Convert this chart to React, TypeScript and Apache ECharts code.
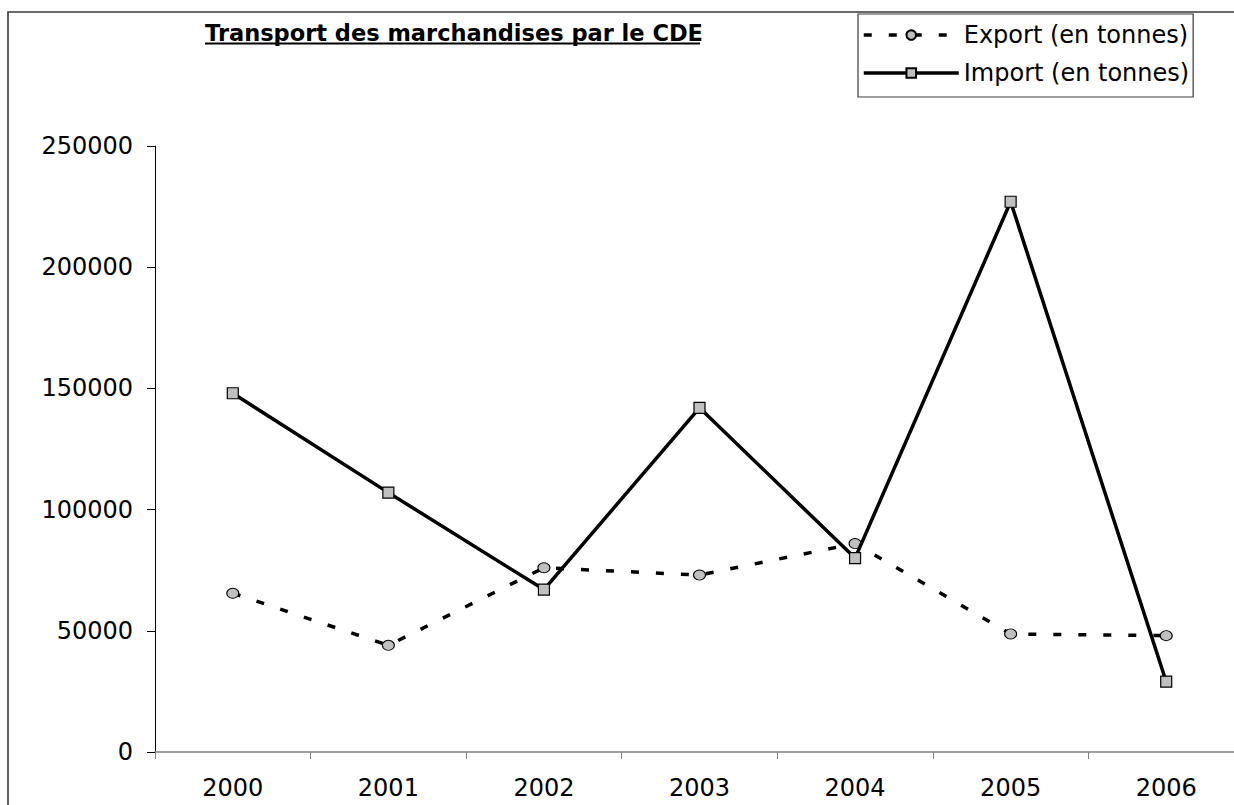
import React, { useEffect, useRef } from "react";
import * as echarts from "echarts";

const years = ["2000", "2001", "2002", "2003", "2004", "2005", "2006"];
const exportTonnes = [65500, 44000, 76000, 73000, 86000, 48700, 48000];
const importTonnes = [148000, 107000, 67000, 142000, 80000, 227000, 29000];
const yTicks = { min: 0, max: 250000, interval: 50000 };
const titleText = "Transport des marchandises par le CDE";
const exportName = "Export (en tonnes)";
const importName = "Import (en tonnes)";

const FONT = "DejaVu Sans";

export default function App() {
  const ref = useRef<HTMLDivElement>(null);
  useEffect(() => {
    if (!ref.current) return;
    const chart = echarts.init(ref.current, null, { renderer: "svg" });
    chart.setOption({
      animation: false,
      backgroundColor: "#ffffff",
      title: {
        text: titleText,
        left: 205,
        top: 21,
        padding: 0,
        textStyle: {
          fontFamily: FONT,
          fontWeight: "bold",
          fontSize: 22.5,
          color: "#000000",
        },
      },
      graphic: [
        {
          type: "rect",
          shape: { x: 8, y: 12, width: 1400, height: 1000 },
          style: { fill: "none", stroke: "#3a3a3a", lineWidth: 1.6 },
          z: -10,
          silent: true,
        },
        {
          type: "line",
          shape: { x1: 205, y1: 43.5, x2: 700, y2: 43.5 },
          style: { stroke: "#000000", lineWidth: 2 },
          silent: true,
        },
      ],
      legend: {
        orient: "vertical",
        left: 858,
        top: 14,
        padding: [9, 4, 12, 4],
        itemGap: 14,
        itemWidth: 95,
        itemHeight: 12,
        backgroundColor: "#ffffff",
        borderColor: "#3a3a3a",
        borderWidth: 1.2,
        borderRadius: 0,
        lineStyle: { width: 3.5 },
        textStyle: { fontFamily: FONT, fontSize: 24, color: "#000000", padding: [0, 0, 0, 0] },
        data: [exportName, importName],
      },
      grid: { left: 155, top: 146, width: 1089, height: 606, containLabel: false },
      xAxis: {
        type: "category",
        data: years,
        boundaryGap: true,
        axisLine: { show: true, lineStyle: { color: "#808080", width: 1.5 } },
        axisTick: { show: true, inside: false, length: 7, interval: 0, lineStyle: { color: "#808080", width: 1 } },
        axisLabel: { interval: 0, margin: 24, fontFamily: FONT, fontSize: 24, color: "#000000" },
        splitLine: { show: false },
      },
      yAxis: {
        type: "value",
        min: yTicks.min,
        max: yTicks.max,
        interval: yTicks.interval,
        axisLine: { show: true, lineStyle: { color: "#000000", width: 1 } },
        axisTick: { show: true, inside: false, length: 8, lineStyle: { color: "#000000", width: 1 } },
        axisLabel: {
          margin: 22,
          fontFamily: FONT,
          fontSize: 24,
          color: "#000000",
          formatter: (v: number) => String(v),
        },
        splitLine: { show: false },
      },
      series: [
        {
          name: exportName,
          type: "line",
          data: exportTonnes,
          symbol: "circle",
          symbolSize: [12, 10],
          showAllSymbol: true,
          lineStyle: { color: "#000000", width: 3.5, type: [8, 17] },
          itemStyle: { color: "#c0c0c0", borderColor: "#000000", borderWidth: 1 },
          z: 3,
        },
        {
          name: importName,
          type: "line",
          data: importTonnes,
          symbol: "rect",
          symbolSize: 11,
          showAllSymbol: true,
          lineStyle: { color: "#000000", width: 3.5, type: "solid" },
          itemStyle: { color: "#c0c0c0", borderColor: "#000000", borderWidth: 1.2 },
          z: 4,
        },
      ],
    });
    return () => chart.dispose();
  }, []);
  return (
    <div
      style={{
        position: "absolute",
        left: 0,
        top: 0,
        width: 1234,
        height: 805,
        overflow: "hidden",
        background: "#ffffff",
      }}
    >
      <div ref={ref} style={{ width: 1250, height: 805 }} />
    </div>
  );
}
